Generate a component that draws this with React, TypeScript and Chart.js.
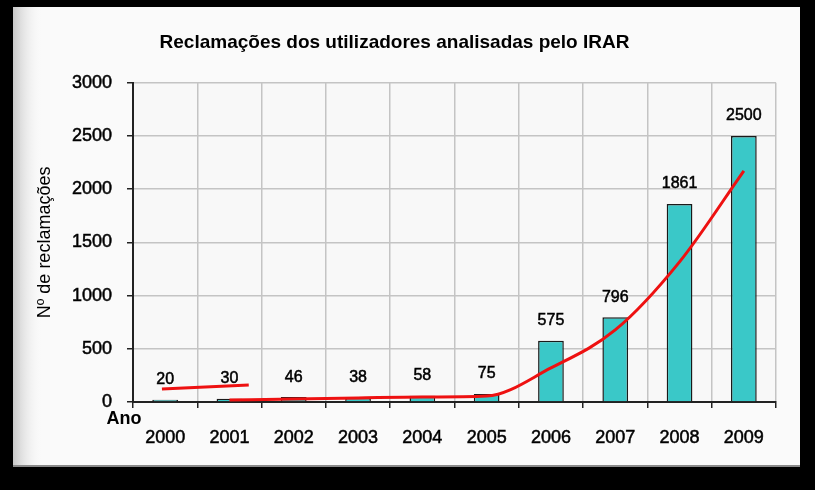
import React, { useEffect, useRef } from "react";
import { Chart, registerables } from "chart.js";

Chart.register(...registerables);

const TITLE = "Reclamações dos utilizadores analisadas pelo IRAR";
const Y_TITLE = "Nº de reclamações";
const X_TITLE = "Ano";
const YEARS = ["2000", "2001", "2002", "2003", "2004", "2005", "2006", "2007", "2008", "2009"];
const COMPLAINTS = [20, 30, 46, 38, 58, 75, 575, 796, 1861, 2500];
// red trend line (x = category index)
const TREND_A_X = [-0.05, 1.3];
const TREND_A_Y = [122, 160];
const TREND_B_X = [1, 2, 3, 4, 5, 6, 7, 8, 9];
const TREND_B_Y = [19, 28, 38, 47, 56, 320, 677, 1317, 2173];
const Y_MIN = 0;
const Y_MAX = 3000;
const Y_STEP = 500;

const FONT = "Arial, 'Liberation Sans', sans-serif";

const backgroundPlugin = {
  id: "bgPanel",
  beforeDraw(chart: any) {
    const { ctx, width, height, chartArea } = chart;
    ctx.save();
    ctx.fillStyle = "#000";
    ctx.fillRect(0, 0, width, height);
    const px = 13, py = 7, pw = 787, ph = 460;
    ctx.fillStyle = "#fafafa";
    ctx.fillRect(px, py, pw, ph);
    const g = ctx.createLinearGradient(px, 0, px + 30, 0);
    g.addColorStop(0, "#c8c8c8");
    g.addColorStop(1, "rgba(250,250,250,0)");
    ctx.fillStyle = g;
    ctx.fillRect(px, py, 30, ph);
    ctx.fillStyle = "#8a8a8a";
    ctx.fillRect(px, py + ph - 2, pw, 2);
    ctx.fillStyle = "#f8f8f8";
    ctx.fillRect(chartArea.left, chartArea.top, chartArea.right - chartArea.left, chartArea.bottom - chartArea.top);
    ctx.restore();
  },
  afterDraw(chart: any) {
    const { ctx, chartArea } = chart;
    ctx.save();
    ctx.fillStyle = "#000";
    ctx.font = `bold 18px ${FONT}`;
    ctx.textAlign = "center";
    ctx.textBaseline = "middle";
    ctx.fillText(X_TITLE, chartArea.left - 9, chartArea.bottom + 17);
    ctx.restore();
  },
};

const valueLabelPlugin = {
  id: "valueLabels",
  afterDatasetsDraw(chart: any) {
    const { ctx } = chart;
    const meta = chart.getDatasetMeta(0);
    ctx.save();
    ctx.fillStyle = "#000";
    ctx.strokeStyle = "#000";
    ctx.lineWidth = 0.5;
    ctx.font = `16px ${FONT}`;
    ctx.textAlign = "center";
    ctx.textBaseline = "middle";
    meta.data.forEach((bar: any, i: number) => {
      ctx.fillText(String(COMPLAINTS[i]), bar.x, bar.y - 20);
      ctx.strokeText(String(COMPLAINTS[i]), bar.x, bar.y - 20);
    });
    ctx.restore();
  },
};

export default function App() {
  const ref = useRef<HTMLCanvasElement>(null);

  useEffect(() => {
    if (!ref.current) return;
    const chart = new Chart(ref.current, {
      type: "bar",
      data: {
        labels: YEARS,
        datasets: [
          {
            type: "bar",
            data: COMPLAINTS,
            backgroundColor: "#3ac8c8",
            borderColor: "#1a1a1a",
            borderWidth: 1.5,
            barPercentage: 0.4,
            categoryPercentage: 1,
            grouped: false,
            xAxisID: "x",
            order: 2,
          },
          {
            type: "line",
            data: TREND_A_X.map((x, i) => ({ x, y: TREND_A_Y[i] })),
            xAxisID: "xl",
            borderColor: "#ee1111",
            borderWidth: 3,
            pointRadius: 0,
            tension: 0,
            order: 1,
          },
          {
            type: "line",
            data: TREND_B_X.map((x, i) => ({ x, y: TREND_B_Y[i] })),
            xAxisID: "xl",
            borderColor: "#ee1111",
            borderWidth: 3,
            pointRadius: 0,
            cubicInterpolationMode: "monotone",
            order: 1,
          },
        ],
      },
      options: {
        animation: false,
        responsive: false,
        layout: { padding: { left: 13, right: 39, top: 0, bottom: 0 } },
        plugins: {
          legend: { display: false },
          tooltip: { enabled: false },
          title: {
            display: true,
            text: TITLE,
            color: "#000",
            font: { family: FONT, size: 19, weight: "bold", lineHeight: 1.2 },
            padding: { top: 31, bottom: 29 },
          },
        },
        scales: {
          x: {
            type: "category",
            offset: true,
            grid: {
              offset: true,
              color: "#c4c4c4",
              lineWidth: 1.5,
              tickColor: "#222",
              tickLength: 6,
            },
            border: { color: "#222", width: 2 },
            ticks: {
              color: "#000",
              font: { family: FONT, size: 18 },
              padding: 19,
              autoSkip: false,
              maxRotation: 0,
              textStrokeColor: "#000",
              textStrokeWidth: 0.5,
            },
            afterFit(scale: any) {
              scale.height = 88;
            },
          },
          xl: {
            type: "linear",
            display: false,
            min: -0.5,
            max: 9.5,
            offset: false,
          },
          y: {
            min: Y_MIN,
            max: Y_MAX,
            ticks: {
              stepSize: Y_STEP,
              color: "#000",
              font: { family: FONT, size: 18 },
              padding: 15,
              textStrokeColor: "#000",
              textStrokeWidth: 0.5,
              callback: (v: any) => String(v),
            },
            grid: { color: "#c4c4c4", lineWidth: 1.5, tickColor: "#222", tickLength: 6 },
            border: { color: "#222", width: 2 },
            title: {
              display: true,
              text: Y_TITLE,
              color: "#000",
              font: { family: FONT, size: 18 },
              padding: { top: 21, bottom: 0 },
            },
            afterFit(scale: any) {
              scale.width = 120;
            },
          },
        },
      },
      plugins: [backgroundPlugin, valueLabelPlugin],
    } as any);
    return () => chart.destroy();
  }, []);

  return (
    <div style={{ position: "fixed", left: 0, top: 0, width: 815, height: 490, background: "#000" }}>
      <canvas ref={ref} width={815} height={490} style={{ display: "block" }} />
    </div>
  );
}
